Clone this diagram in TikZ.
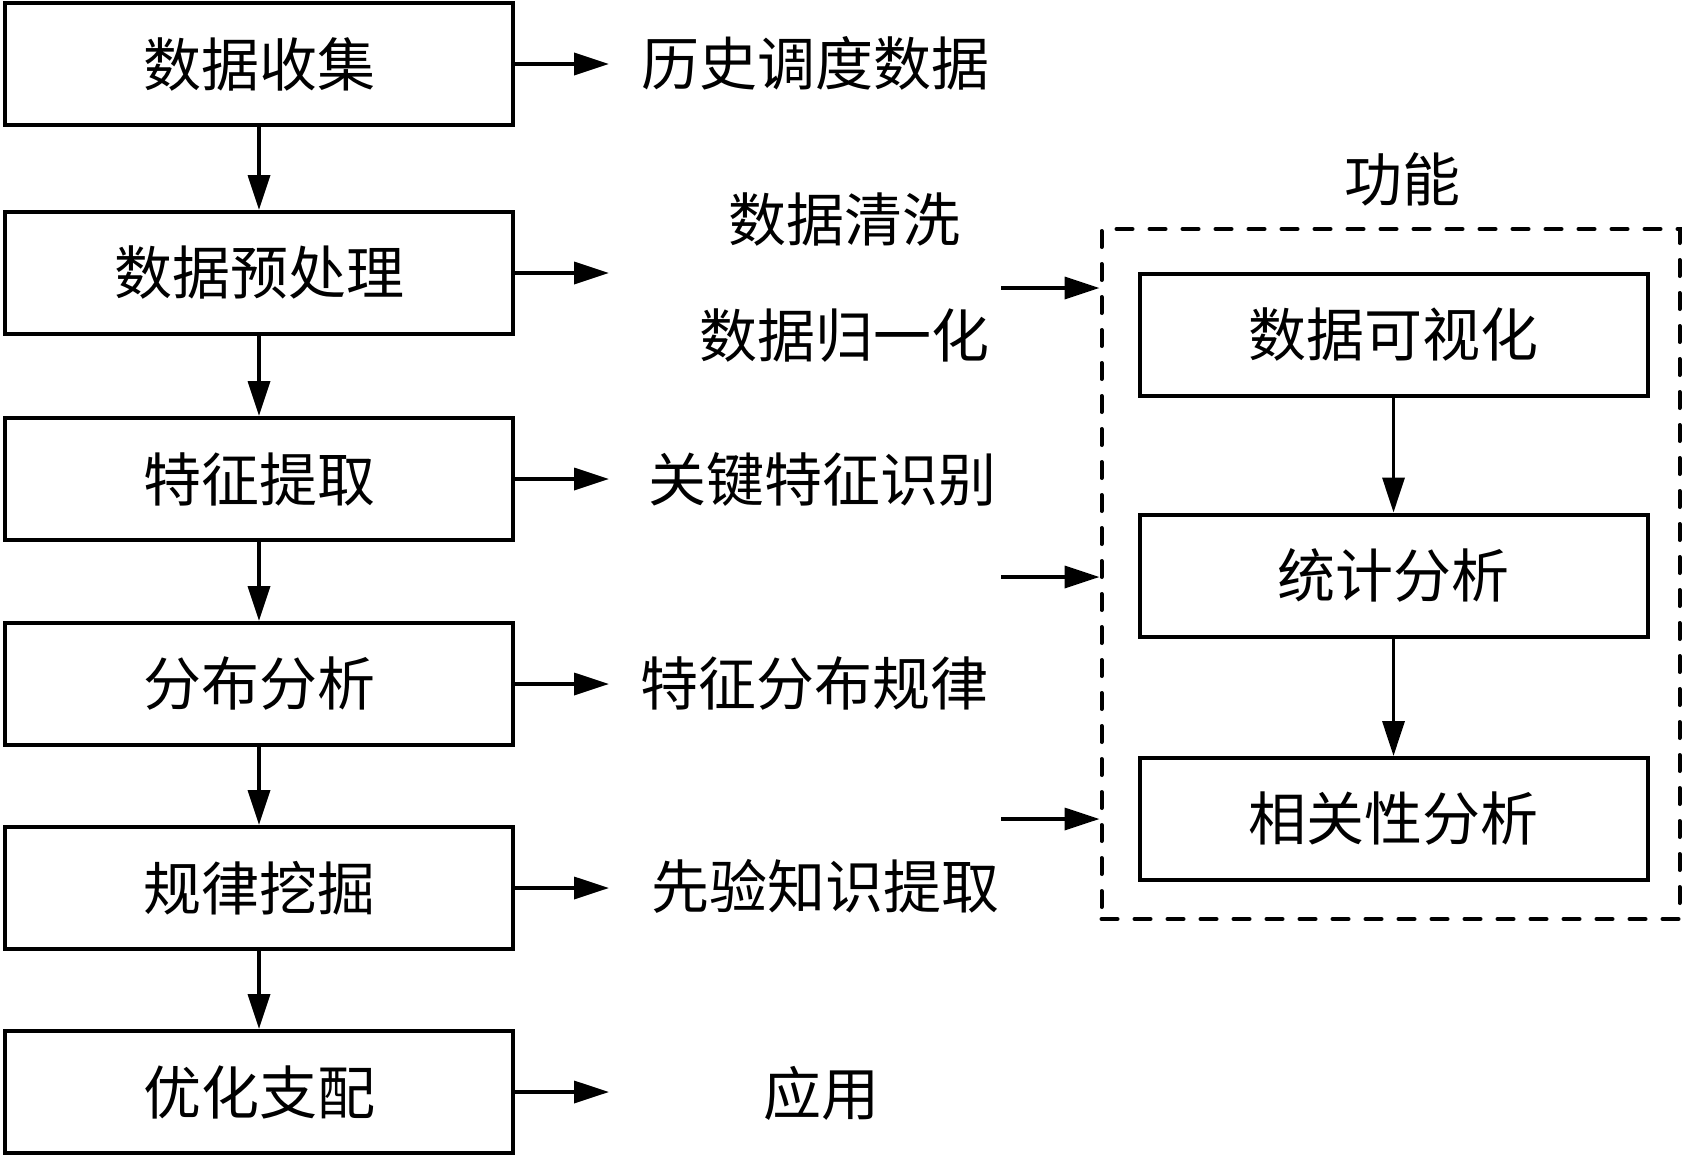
\documentclass[tikz,border=0pt]{standalone}
\usepackage{fontspec}
\newfontfamily\cjk{Noto Sans CJK SC}
\usetikzlibrary{arrows.meta}
\begin{document}
\begin{tikzpicture}[x=0.5pt,y=-0.5pt,
  every node/.style={font=\cjk\fontsize{29pt}{34pt}\selectfont, inner sep=0pt},
  stepbox/.style={draw, line width=2pt, minimum width=254pt, minimum height=61pt},
  arr/.style={-{Triangle[length=17.5pt,width=11pt]}, line width=1.75pt},
  groupbox/.style={draw, dash pattern=on 8pt off 8.5pt, line cap=round, line width=2pt, minimum width=289pt, minimum height=345pt}]
\useasboundingbox (0,0) rectangle (1684,1156);

% left column
\node[stepbox] (b1) at (259,64)   {数据收集};
\node[stepbox] (b2) at (259,273)  {数据预处理};
\node[stepbox] (b3) at (259,479)  {特征提取};
\node[stepbox] (b4) at (259,684)  {分布分析};
\node[stepbox] (b5) at (259,888)  {规律挖掘};
\node[stepbox] (b6) at (259,1092) {优化支配};

\foreach \a/\b in {b1/b2,b2/b3,b3/b4,b4/b5,b5/b6}
  \draw[arr] (\a.south) -- (\b.north);

% arrow ends
\coordinate (e1) at (609,64);
\coordinate (e2) at (609,273);
\coordinate (e3) at (609,479);
\coordinate (e4) at (609,684);
\coordinate (e5) at (609,888);
\coordinate (e6) at (609,1092);
\foreach \i in {1,...,6}
  \draw[arr] (b\i.east) -- (e\i);

% middle texts
\node (t1)  at (815,63)   {历史调度数据};
\node (t2a) at (844,220)  {数据清洗};
\node (t2b) at (844,336)  {数据归一化};
\node (t3)  at (822,480)  {关键特征识别};
\node (t4)  at (814,684)  {特征分布规律};
\node (t5)  at (825,886)  {先验知识提取};
\node (t6)  at (821,1093) {应用};

% function group
\node[groupbox] (grp) at (1390.5,574) {};
\node (gl) at (1402,179) {功能};
\node[stepbox] (f1) at (1393.5,334.5) {数据可视化};
\node[stepbox] (f2) at (1393.5,575.5) {统计分析};
\node[stepbox] (f3) at (1393.5,819)   {相关性分析};
\draw[arr] (f1.south) -- (f2.north);
\draw[arr] (f2.south) -- (f3.north);

\coordinate (s1) at (1001,288);
\coordinate (s2) at (1001,577);
\coordinate (s3) at (1001,819);
\foreach \i in {1,2,3}
  \draw[arr] (s\i) -- (s\i -| grp.west);
\end{tikzpicture}
\end{document}
